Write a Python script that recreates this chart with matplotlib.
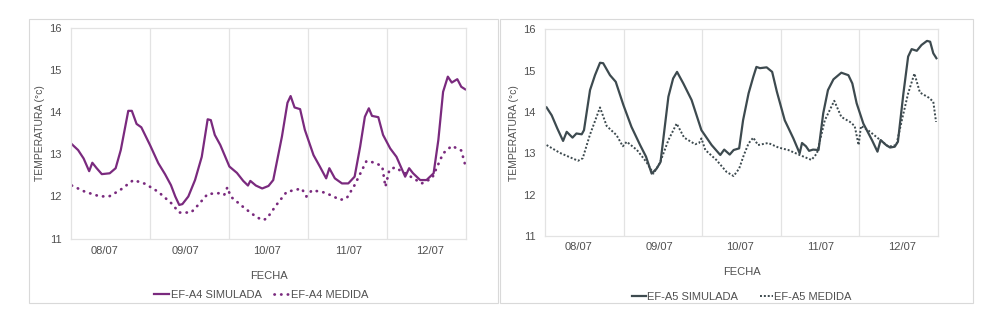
import matplotlib
matplotlib.use("Agg")
import matplotlib.pyplot as plt
from matplotlib.patches import Rectangle

plt.rcParams['font.family'] = ['Liberation Sans', 'DejaVu Sans']

# ---------------- data ----------------
day_labels = ["08/07", "09/07", "10/07", "11/07", "12/07"]
y_ticks = [11, 12, 13, 14, 15, 16]

# time in days since start of 08/07
a4_sim_t = [0.01, 0.09, 0.16, 0.23, 0.27, 0.325, 0.39, 0.49, 0.565, 0.63,
            0.725, 0.77, 0.83, 0.89, 1.0, 1.105, 1.19, 1.265, 1.32, 1.37,
            1.41, 1.485, 1.57, 1.655, 1.73, 1.77, 1.82, 1.89, 2.005, 2.10,
            2.18, 2.24, 2.27, 2.34, 2.42, 2.50, 2.56, 2.67, 2.74, 2.78,
            2.83, 2.90, 2.96, 3.07, 3.15, 3.23, 3.27, 3.34, 3.43, 3.51,
            3.59, 3.66, 3.72, 3.77, 3.81, 3.89, 3.95, 4.04, 4.12, 4.23,
            4.28, 4.33, 4.42, 4.50, 4.59, 4.65, 4.71, 4.77, 4.82, 4.89,
            4.94, 4.99]
a4_sim_v = [13.24, 13.10, 12.90, 12.60, 12.80, 12.67, 12.53, 12.55, 12.67, 13.10,
            14.03, 14.03, 13.72, 13.64, 13.22, 12.79, 12.53, 12.27, 12.00, 11.80,
            11.82, 12.00, 12.39, 12.94, 13.83, 13.81, 13.46, 13.22, 12.71, 12.56,
            12.37, 12.26, 12.37, 12.26, 12.19, 12.25, 12.39, 13.42, 14.22, 14.38,
            14.11, 14.07, 13.58, 12.98, 12.71, 12.43, 12.67, 12.43, 12.31, 12.31,
            12.47, 13.18, 13.89, 14.09, 13.91, 13.88, 13.46, 13.14, 12.94, 12.47,
            12.67, 12.55, 12.39, 12.39, 12.55, 13.34, 14.48, 14.84, 14.70, 14.78,
            14.60, 14.54]

a4_med_t = [0.01, 0.18, 0.37, 0.49, 0.62, 0.79, 0.94, 1.105, 1.27, 1.37,
            1.52, 1.61, 1.73, 1.89, 1.94, 1.98, 2.02, 2.20, 2.35, 2.43,
            2.48, 2.60, 2.73, 2.92, 2.98, 3.05, 3.22, 3.41, 3.49, 3.59,
            3.74, 3.85, 3.94, 3.98, 4.03, 4.10, 4.23, 4.44, 4.57, 4.71,
            4.82, 4.94, 4.99]
a4_med_v = [12.26, 12.11, 12.00, 12.01, 12.15, 12.39, 12.30, 12.11, 11.84, 11.62,
            11.62, 11.80, 12.06, 12.08, 12.04, 12.22, 12.00, 11.72, 11.51, 11.44,
            11.48, 11.80, 12.11, 12.19, 12.00, 12.15, 12.09, 11.92, 11.96, 12.27,
            12.84, 12.80, 12.71, 12.23, 12.63, 12.69, 12.55, 12.31, 12.43, 13.02,
            13.20, 13.09, 12.75]

a5_sim_t = [0.02, 0.085, 0.157, 0.23, 0.276, 0.35, 0.40, 0.467, 0.496, 0.573,
            0.636, 0.70, 0.74, 0.827, 0.90, 0.997, 1.10, 1.21, 1.285, 1.357,
            1.42, 1.47, 1.57, 1.63, 1.68, 1.76, 1.865, 1.99, 2.12, 2.23,
            2.28, 2.35, 2.40, 2.47, 2.52, 2.59, 2.65, 2.69, 2.735, 2.82,
            2.89, 2.95, 3.05, 3.16, 3.24, 3.27, 3.32, 3.36, 3.41, 3.48,
            3.54, 3.60, 3.67, 3.77, 3.86, 3.91, 3.965, 4.05, 4.16, 4.23,
            4.27, 4.34, 4.39, 4.45, 4.49, 4.56, 4.62, 4.665, 4.73, 4.79,
            4.86, 4.90, 4.94, 4.98]
a5_sim_v = [14.11, 13.92, 13.60, 13.30, 13.52, 13.38, 13.48, 13.46, 13.56, 14.53,
            14.89, 15.19, 15.18, 14.89, 14.73, 14.17, 13.64, 13.20, 12.92, 12.51,
            12.63, 12.79, 14.37, 14.81, 14.97, 14.69, 14.29, 13.56, 13.20, 12.96,
            13.09, 12.97, 13.08, 13.12, 13.80, 14.45, 14.85, 15.09, 15.06, 15.08,
            14.97, 14.49, 13.80, 13.36, 13.00, 13.25, 13.17, 13.06, 13.09, 13.08,
            13.97, 14.53, 14.79, 14.95, 14.89, 14.69, 14.21, 13.72, 13.32, 13.04,
            13.32, 13.20, 13.14, 13.16, 13.28, 14.45, 15.34, 15.52, 15.48, 15.62,
            15.72, 15.70, 15.42, 15.30]

a5_med_t = [0.02, 0.19, 0.42, 0.48, 0.57, 0.70, 0.785, 0.91, 0.99, 1.04,
            1.17, 1.29, 1.38, 1.46, 1.57, 1.675, 1.77, 1.91, 1.96, 1.99,
            2.04, 2.18, 2.31, 2.40, 2.47, 2.53, 2.59, 2.65, 2.71, 2.84,
            2.97, 3.095, 3.24, 3.39, 3.46, 3.56, 3.68, 3.77, 3.88, 3.94,
            3.99, 4.02, 4.11, 4.24, 4.37, 4.47, 4.54, 4.62, 4.70, 4.77,
            4.88, 4.94, 4.975]
a5_med_v = [13.20, 13.01, 12.82, 12.88, 13.44, 14.11, 13.66, 13.44, 13.17, 13.28,
            13.08, 12.79, 12.51, 12.76, 13.32, 13.72, 13.38, 13.22, 13.25, 13.36,
            13.08, 12.84, 12.55, 12.45, 12.63, 12.96, 13.24, 13.38, 13.20, 13.25,
            13.14, 13.08, 12.96, 12.84, 13.00, 13.80, 14.27, 13.88, 13.76, 13.66,
            13.20, 13.66, 13.56, 13.36, 13.16, 13.20, 13.80, 14.45, 14.93, 14.47,
            14.35, 14.25, 13.76]

# ---------------- styling ----------------
W, H = 1001, 323
fig = plt.figure(figsize=(W / 100, H / 100), dpi=100)
fig.patch.set_facecolor('white')

TXT = '#505050'
GRID = '#e3e3e3'
BORDER = '#d9d9d9'
FS = 8

# outer chart borders
for (x0, x1) in [(29, 498), (500, 973)]:
    fig.add_artist(Rectangle((x0 / W, 1 - 303 / H), (x1 - x0) / W, 284 / H,
                             transform=fig.transFigure, fill=False,
                             ec=BORDER, lw=0.8))


def make_axes(rect):
    ax = fig.add_axes(rect)
    ax.set_xlim(0, 5)
    ax.set_ylim(11, 16)
    ax.set_yticks(y_ticks)
    ax.set_xticks([0.42 + 1.03 * i for i in range(len(day_labels))])
    ax.set_xticklabels(day_labels)
    ax.set_xticks([1, 2, 3, 4], minor=True)
    ax.grid(True, which='minor', axis='x', color=GRID, lw=0.9)
    ax.grid(False, which='major')
    ax.tick_params(which='both', length=0, labelsize=FS, colors=TXT)
    for s in ax.spines.values():
        s.set_color(GRID)
        s.set_linewidth(0.9)
    ax.set_ylabel('TEMPERATURA (°c)', fontsize=7.5, color=TXT, labelpad=3)
    ax.set_xlabel('FECHA', fontsize=FS, color=TXT, labelpad=11)
    return ax


# left panel
axL = make_axes([71 / W, 1 - 238.7 / H, 395 / W, 211 / H])
axL.tick_params(axis='x', pad=5)
axL.tick_params(axis='y', pad=7)
c1 = '#7a2a7e'
axL.plot(a4_sim_t, a4_sim_v, color=c1, lw=1.6, label='EF-A4 SIMULADA')
axL.plot(a4_med_t, a4_med_v, color=c1, lw=2.0, linestyle=(0, (0.1, 2.3)),
         dash_capstyle='round', label='EF-A4 MEDIDA')
legL = axL.legend(loc='center', bbox_to_anchor=(261 / W, 1 - 295 / H),
                  bbox_transform=fig.transFigure, ncol=2, frameon=False,
                  fontsize=8, handlelength=1.4, handletextpad=0.15,
                  columnspacing=1.1)
for t in legL.get_texts():
    t.set_color(TXT)

# right panel
axR = make_axes([545 / W, 1 - 236 / H, 393 / W, 206.7 / H])
axR.tick_params(axis='x', pad=4)
axR.tick_params(axis='y', pad=7)
c2 = '#3d4a4f'
axR.plot(a5_sim_t, a5_sim_v, color=c2, lw=1.6, label='EF-A5 SIMULADA')
axR.plot(a5_med_t, a5_med_v, color=c2, lw=1.4, linestyle=(0, (1, 1)),
         label='EF-A5 MEDIDA')
legR = axR.legend(loc='center', bbox_to_anchor=(742 / W, 1 - 297 / H),
                  bbox_transform=fig.transFigure, ncol=2, frameon=False,
                  fontsize=8, handlelength=1.2, handletextpad=0.1,
                  columnspacing=2.0)
for t in legR.get_texts():
    t.set_color(TXT)

fig.savefig('out.png', dpi=100)
